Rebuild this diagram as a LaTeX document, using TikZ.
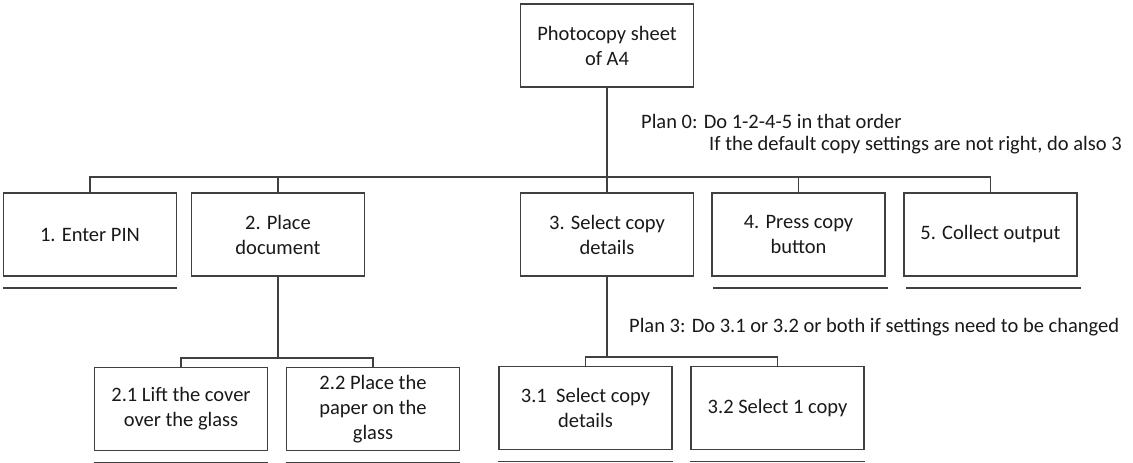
\documentclass[tikz,border=0pt]{standalone}
\usepackage{fontspec}
\setmainfont{Carlito}
\usetikzlibrary{positioning}
\definecolor{lgray}{rgb}{0.25,0.25,0.25}
\definecolor{tgray}{rgb}{0.1,0.1,0.1}
\tikzset{taskbox/.style = {draw=lgray, line width=1.5pt, text=tgray,
                           minimum width=173pt, minimum height=83pt,
                           align=center, inner sep=2pt},
         link/.style = {draw=lgray, line width=1.5pt},
         uline/.style = {draw=lgray, line width=1.5pt},
         plan/.style = {right, text=tgray, inner sep=0pt}}

\begin{document}
\begin{tikzpicture}[x=1pt, y=-1pt, font=\fontsize{20.5}{25}\selectfont]
    \useasboundingbox (0,0) rectangle (1133,463);

    \node [taskbox] (top) at (607,45.5) {Photocopy sheet\\of A4};

    \node [taskbox] (b1) at (90,234.5) {1. Enter PIN};
    \node [taskbox] (b2) at (278,234.5) {2. Place\\document};
    \node [taskbox] (b3) at (607,234.5) {3. Select copy\\details};
    \node [taskbox] (b4) at (798.5,234.5) {4. Press copy\\button};
    \node [taskbox] (b5) at (990.5,234.5) {5. Collect output};

    \node [taskbox] (b21) at (181,409) {2.1 Lift the cover\\over the glass};
    \node [taskbox] (b22) at (373,409) {2.2 Place the\\paper on the\\glass};
    \node [taskbox] (b31) at (585.5,408) {3.1~~Select copy\\details};
    \node [taskbox] (b32) at (777.5,408) {3.2 Select 1 copy};

    \coordinate (j0) at (607,177);
    \coordinate (j2) at (278,358);
    \coordinate (j3) at (607,357);

    \draw [link] (top) -- (j0);
    \foreach \n in {b1,b2,b3,b4,b5}
      \draw [link] (j0) -| (\n.north);
    \draw [link] (b2) -- (j2);
    \draw [link] (j2) -| (b21.north);
    \draw [link] (j2) -| (b22.north);
    \draw [link] (b3) -- (j3);
    \draw [link] (j3) -| (b31.north);
    \draw [link] (j3) -| (b32.north);

    % plan underlines
    \draw [uline] ([yshift=-11pt]b1.south west) -- ([yshift=-11pt]b1.south east);
    \draw [uline] ([shift={(2pt,-11pt)}]b4.south west) -- ([shift={(2pt,-11pt)}]b4.south east);
    \draw [uline] ([shift={(3pt,-11pt)}]b5.south west) -- ([shift={(3pt,-11pt)}]b5.south east);
    \foreach \n in {b21,b22,b31,b32}
      \draw [uline] ([yshift=-11pt]\n.south west) -- ([yshift=-11pt]\n.south east);

    \node [plan] (plan0) at (641,121) {Plan 0: Do 1-2-4-5 in that order};
    \node [plan] (plan0b) at (709,145) {If the default copy settings are not right, do also 3};
    \node [plan] (plan3) at (629,327) {Plan 3: Do 3.1 or 3.2 or both if settings need to be changed};
\end{tikzpicture}
\end{document}
